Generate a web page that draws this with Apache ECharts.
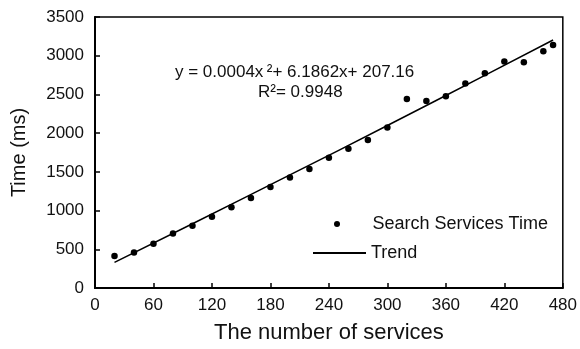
<!DOCTYPE html>
<html>
<head>
<meta charset="utf-8">
<script src="https://cdn.jsdelivr.net/npm/echarts@6/dist/echarts.min.js"></script>
<style>html,body{margin:0;padding:0;background:#fff}#c{width:580px;height:349px}</style>
</head>
<body>
<div id="c"></div>
<script>
var servicesX = [20,40,60,80,100,120,140,160,180,200,220,240,260,280,300,320,340,360,380,400,420,440,460,470];
var timeY = [412,460,571,703,805,920,1044,1162,1303,1427,1537,1682,1797,1910,2073,2440,2414,2478,2640,2772,2925,2916,3057,3138];
var trendX = [20,100,200,300,400,470];
var trendY = [331,830,1460,2099,2746,3203];
var xTicks = [0,60,120,180,240,300,360,420,480];
var yTicks = [0,500,1000,1500,2000,2500,3000,3500];

var FONT = 'Liberation Sans, Arial, Helvetica, sans-serif';
var chart = echarts.init(document.getElementById('c'));
chart.setOption({
  animation: false,
  backgroundColor: '#fff',
  grid: {left: 95, right: 13, top: 17, bottom: 58, show: true, borderColor: '#000', borderWidth: 1.5, containLabel: false},
  xAxis: {
    type: 'value', min: xTicks[0], max: xTicks[xTicks.length-1], interval: 60,
    name: 'The number of services', nameLocation: 'middle', nameGap: 34,
    nameTextStyle: {fontSize: 22, color: '#111', fontFamily: FONT},
    axisLine: {show: true, lineStyle: {color: '#000', width: 2}},
    axisTick: {show: true, inside: true, length: 5, lineStyle: {color: '#000', width: 1.5}},
    axisLabel: {fontSize: 17, color: '#111', fontFamily: FONT, margin: 9, formatter: function(v){return String(v);}},
    splitLine: {show: false}
  },
  yAxis: {
    type: 'value', min: yTicks[0], max: yTicks[yTicks.length-1], interval: 500,
    name: 'Time (ms)', nameLocation: 'middle', nameGap: 66, nameRotate: 90,
    nameTextStyle: {fontSize: 20, color: '#111', fontFamily: FONT},
    axisLine: {show: true, lineStyle: {color: '#000', width: 2}},
    axisTick: {show: true, inside: true, length: 5, lineStyle: {color: '#000', width: 1.5}},
    axisLabel: {fontSize: 17, color: '#111', fontFamily: FONT, margin: 11, formatter: function(v){return String(v);}},
    splitLine: {show: false}
  },
  legend: [
    {data: ['Search Services Time'], left: 329, top: 210, itemWidth: 61, itemHeight: 6, icon: 'circle',
     itemStyle: {opacity: 1},
     textStyle: {fontSize: 18, color: '#111', fontFamily: FONT}, selectedMode: false},
    {data: [{name: 'Trend', icon: 'rect'}], left: 308, top: 239, itemWidth: 53, itemHeight: 2,
     textStyle: {fontSize: 18, color: '#111', fontFamily: FONT}, selectedMode: false}
  ],
  graphic: [
    {type: 'text', left: 175, top: 64, style: {text: 'y = 0.0004x\u2009\u00b2+ 6.1862x+ 207.16', fontSize: 17, fill: '#111', fontFamily: FONT}},
    {type: 'text', left: 258, top: 84, style: {text: 'R\u00b2= 0.9948', fontSize: 17, fill: '#111', fontFamily: FONT}}
  ],
  series: [
    {name: 'Search Services Time', type: 'scatter', symbol: 'circle', symbolSize: 6.5,
     itemStyle: {color: '#000', opacity: 1}, data: servicesX.map(function(x,i){return [x, timeY[i]];}), z: 3},
    {name: 'Trend', type: 'line', symbol: 'none', smooth: true,
     lineStyle: {color: '#000', width: 1.5}, itemStyle: {color: '#000'},
     data: trendX.map(function(x,i){return [x, trendY[i]];}), z: 2}
  ]
});
</script>
</body>
</html>
